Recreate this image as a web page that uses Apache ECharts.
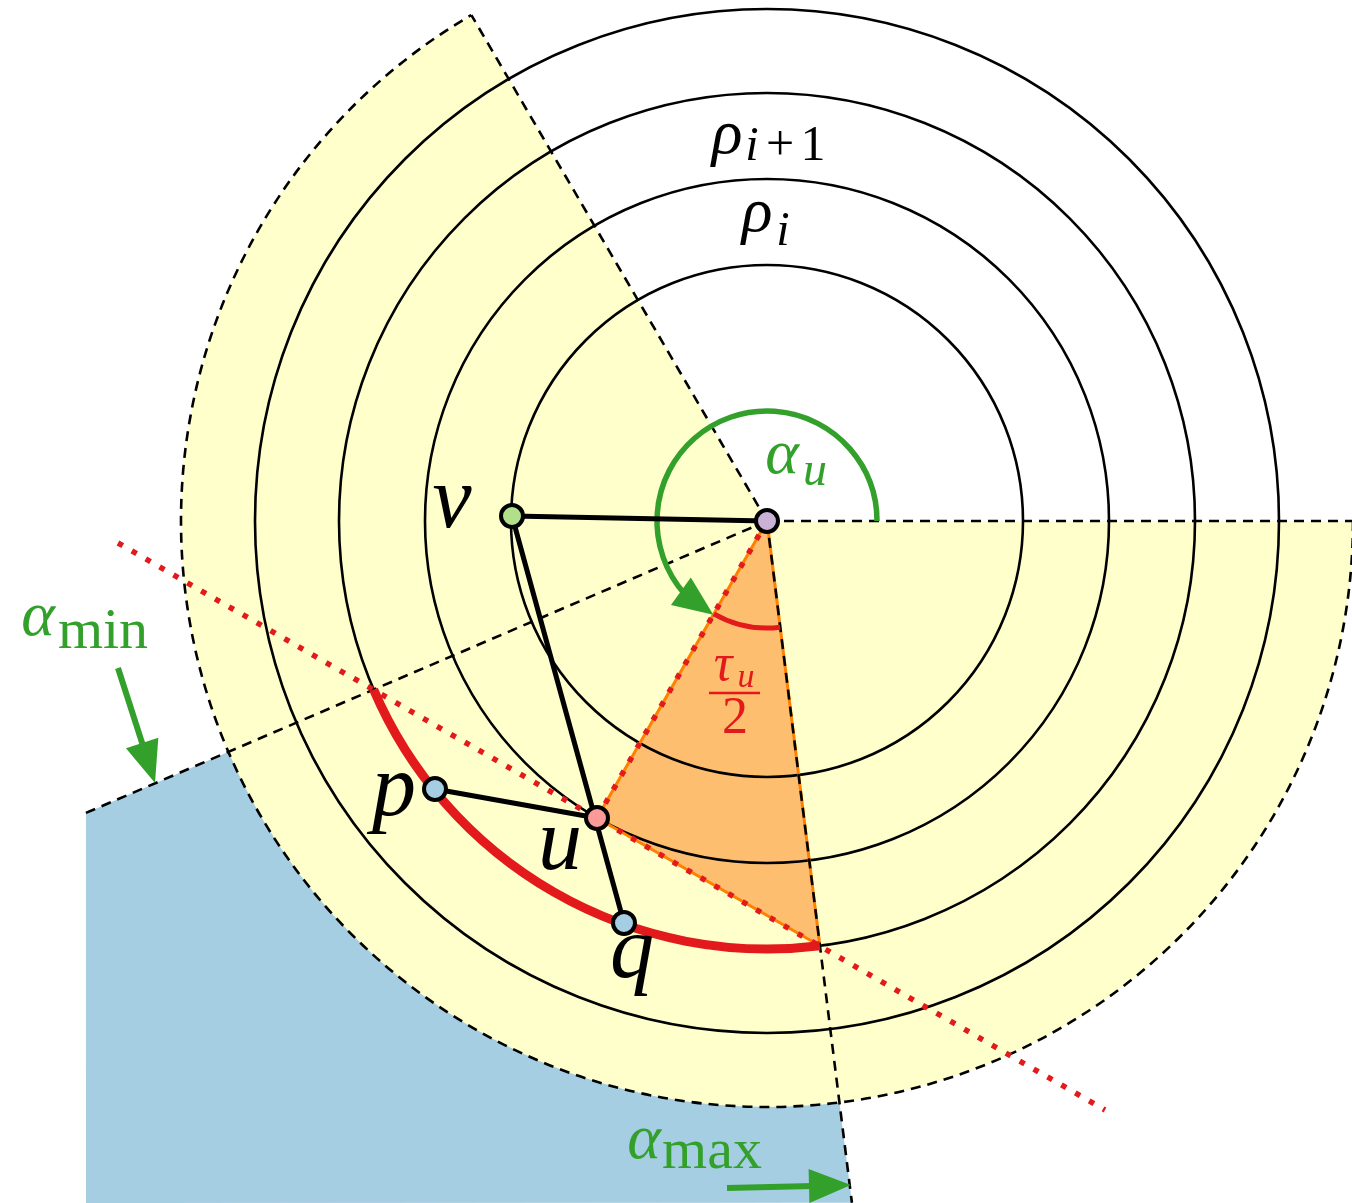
<!DOCTYPE html>
<html>
<head>
<meta charset="utf-8">
<script src="https://cdn.jsdelivr.net/npm/echarts@6/dist/echarts.min.js"></script>
<style>
  html, body { margin: 0; background: #fff; }
  #chart { width: 1352px; height: 1203px; }
</style>
</head>
<body>
<div id="chart"></div>
<script>
// data units are pixels, origin at the centre node, y pointing up
const ringRadii = [256, 342, 428, 512];
const outerRadius = 586;
const freeWedge = [120.3, 360];       // yellow wedge, ccw from / to (degrees)
const alphaMin = 203.2;
const alphaMax = 277.1;
const alphaU = 240.2;
const tauArcRadius = 107;
const alphaArcRadius = 110;
const minRayLength = 741;
const maxRayLength = 687;
const blueCorner = [-681, -682];

const nodeNames = ['c', 'v', 'u', 'p', 'q'];
const nodeX = [0, -255, -170, -332, -143];
const nodeY = [0, 5, -297, -268, -402];
const nodeColors = ['#cab2d6', '#b2df8a', '#fb9a99', '#a6cee3', '#a6cee3'];
const edges = [['c', 'v'], ['v', 'q'], ['p', 'u']];

const tangentLine = [-649, -22, 338, -589];
const minArrow = [-649, -147, -612, -262];
const maxArrow = [-40, -667, 84, -664];

// text pieces: text, centre x, baseline y, style key
const labelTexts = ['v', 'u', 'p', 'q', 'ρ', 'i', '+', '1', 'ρ', 'i',
  'α', 'u', 'α', 'min', 'α', 'max', 'τ', 'u', '2'];
const labelX = [-315, -207, -373, -135, -40, -15, 13, 46, -10, 16,
  15, 48, -729, -664, -123, -55, -44, -21, -32];
const labelY = [-9, -351, -297, -459, 366, 359, 359, 359, 288, 274,
  46, 34, -116, -129, -639, -649, -161, -167, -214];
const labelKind = ['node', 'node', 'node', 'node', 'rho', 'rhoSub', 'sub', 'sub', 'rho', 'rhoSub',
  'alphaG', 'subGi', 'alphaG', 'subG', 'alphaG', 'subG', 'tau', 'tauSub', 'tauNum'];
const fracBar = [-58, -172, -7, -172];

const BLACK = '#000', GREEN = '#33a02c', RED = '#e31a1c', ORANGE = '#ff7f00';
const kinds = {
  node: ['italic', 88, BLACK], rho: ['italic', 64, BLACK], rhoSub: ['italic', 48, BLACK],
  sub: ['normal', 50, BLACK], alphaG: ['italic', 64, GREEN], subGi: ['italic', 48, GREEN],
  subG: ['normal', 58, GREEN], tau: ['italic', 52, RED], tauSub: ['italic', 34, RED],
  tauNum: ['normal', 52, RED]
};

const D = Math.PI / 180;
const polar = (r, deg) => [r * Math.cos(deg * D), r * Math.sin(deg * D)];
const node = name => { const i = nodeNames.indexOf(name); return [nodeX[i], nodeY[i]]; };

const uPt = node('u');
const corner = polar(ringRadii[2], alphaMax);

const rays = [
  [0, 0].concat(polar(outerRadius, freeWedge[0])),
  [0, 0].concat(polar(outerRadius, 0)),
  [0, 0].concat(polar(minRayLength, alphaMin)),
  [0, 0].concat(polar(maxRayLength, alphaMax))
];
const triangleEdges = [
  [0, 0].concat(uPt), uPt.concat(corner), [0, 0].concat(corner)
];
const dottedLines = [tangentLine, [0, 0].concat(uPt)];
const edgeSegs = edges.map(e => node(e[0]).concat(node(e[1])));

function segmentSeries(segs, style, z) {
  return {
    type: 'custom', coordinateSystem: 'cartesian2d', z: z, silent: true,
    data: segs,
    renderItem(params, api) {
      const a = api.coord([api.value(0), api.value(1)]);
      const b = api.coord([api.value(2), api.value(3)]);
      return {
        type: 'line',
        shape: { x1: a[0], y1: a[1], x2: b[0], y2: b[1] },
        style: Object.assign({ fill: null }, style)
      };
    }
  };
}

function arcSeries(items, style, z) {
  return {
    type: 'custom', coordinateSystem: 'cartesian2d', z: z, silent: true,
    data: items.map(it => [0, 0].concat(it)),
    renderItem(params, api) {
      const c = api.coord([0, 0]);
      const r = api.size([api.value(2), 0])[0];
      return {
        type: 'arc',
        shape: { cx: c[0], cy: c[1], r: r, startAngle: -api.value(4) * D, endAngle: -api.value(3) * D, clockwise: true },
        style: Object.assign({ fill: null }, style)
      };
    }
  };
}

function polygonSeries(pts, color, z) {
  return {
    type: 'custom', coordinateSystem: 'cartesian2d', z: z, silent: true,
    data: pts,
    renderItem(params, api) {
      if (params.dataIndex > 0) return null;
      return { type: 'polygon', shape: { points: pts.map(p => api.coord(p)) }, style: { fill: color } };
    }
  };
}

function headPoints(tip, dir, len, half) {
  const n = Math.hypot(dir[0], dir[1]);
  const ux = dir[0] / n, uy = dir[1] / n;
  const bx = tip[0] - ux * len, by = tip[1] - uy * len;
  return [tip, [bx - uy * half, by + ux * half], [bx + uy * half, by - ux * half]];
}

const option = {
  animation: false,
  backgroundColor: '#fff',
  grid: { left: 0, right: 0, top: 0, bottom: 0 },
  xAxis: { type: 'value', min: -767, max: 585, show: false },
  yAxis: { type: 'value', min: -682, max: 521, show: false },
  series: [
    polygonSeries([polar(minRayLength, alphaMin), [0, 0], polar(maxRayLength, alphaMax), blueCorner], '#a6cee3', 1),
    {
      type: 'custom', coordinateSystem: 'cartesian2d', z: 2, silent: true,
      data: [[0, 0, outerRadius]],
      renderItem(params, api) {
        const c = api.coord([0, 0]);
        const r = api.size([api.value(2), 0])[0];
        return {
          type: 'sector',
          shape: { cx: c[0], cy: c[1], r0: 0, r: r, startAngle: -freeWedge[1] * D, endAngle: -freeWedge[0] * D, clockwise: true },
          style: { fill: '#ffffcc' }
        };
      }
    },
    polygonSeries([[0, 0], uPt, corner], '#fdbf6f', 3),
    arcSeries(ringRadii.map(r => [r, 0, 360]), { stroke: BLACK, lineWidth: 2.6 }, 4),
    arcSeries([[outerRadius, freeWedge[0], freeWedge[1]]], { stroke: BLACK, lineWidth: 2.6, lineDash: [10, 7] }, 5),
    segmentSeries(triangleEdges, { stroke: ORANGE, lineWidth: 3 }, 5),
    segmentSeries(rays, { stroke: BLACK, lineWidth: 2.6, lineDash: [10, 7] }, 6),
    segmentSeries(dottedLines, { stroke: RED, lineWidth: 5.5, lineDash: [5.5, 10.5] }, 7),
    arcSeries([[ringRadii[2], alphaMin, alphaMax]], { stroke: RED, lineWidth: 9 }, 8),
    arcSeries([[tauArcRadius, alphaU, alphaMax]], { stroke: RED, lineWidth: 5 }, 8),
    arcSeries([[alphaArcRadius, 0, 221]], { stroke: GREEN, lineWidth: 5.5 }, 8),
    {
      type: 'custom', coordinateSystem: 'cartesian2d', z: 9, silent: true,
      data: [[alphaArcRadius - 2, alphaU]],
      renderItem(params, api) {
        const r = api.value(0), a = api.value(1);
        const tip = api.coord(polar(r, a));
        const back = api.coord(polar(r, a - 12));
        const dir = [tip[0] - back[0], tip[1] - back[1]];
        return { type: 'polygon', shape: { points: headPoints(tip, dir, 40, 17) }, style: { fill: GREEN } };
      }
    },
    {
      type: 'custom', coordinateSystem: 'cartesian2d', z: 9, silent: true,
      data: [minArrow, maxArrow],
      renderItem(params, api) {
        const a = api.coord([api.value(0), api.value(1)]);
        const b = api.coord([api.value(2), api.value(3)]);
        const dir = [b[0] - a[0], b[1] - a[1]];
        const head = headPoints(b, dir, 42, 17);
        const n = Math.hypot(dir[0], dir[1]);
        const base = [b[0] - dir[0] / n * 38, b[1] - dir[1] / n * 38];
        return {
          type: 'group',
          children: [
            { type: 'line', shape: { x1: a[0], y1: a[1], x2: base[0], y2: base[1] }, style: { stroke: GREEN, lineWidth: 6 } },
            { type: 'polygon', shape: { points: head }, style: { fill: GREEN } }
          ]
        };
      }
    },
    segmentSeries(edgeSegs, { stroke: BLACK, lineWidth: 5 }, 10),
    segmentSeries([fracBar], { stroke: RED, lineWidth: 2.5 }, 10),
    {
      type: 'scatter', z: 11, silent: true,
      symbol: 'circle', symbolSize: 22,
      data: nodeNames.map((n, i) => ({
        value: [nodeX[i], nodeY[i]],
        itemStyle: { color: nodeColors[i], borderColor: BLACK, borderWidth: 4, opacity: 1 }
      }))
    },
    {
      type: 'custom', coordinateSystem: 'cartesian2d', z: 12, silent: true,
      data: labelTexts.map((t, i) => [labelX[i], labelY[i]]),
      renderItem(params, api) {
        const i = params.dataIndex;
        const k = kinds[labelKind[i]];
        const p = api.coord([api.value(0), api.value(1)]);
        return {
          type: 'text',
          x: p[0], y: p[1] - k[1] * 0.3,
          style: {
            text: labelTexts[i],
            font: k[0] + ' ' + k[1] + 'px "Liberation Serif", serif',
            fill: k[2],
            align: 'center',
            verticalAlign: 'middle'
          }
        };
      }
    }
  ]
};

const chart = echarts.init(document.getElementById('chart'));
chart.setOption(option);
</script>
</body>
</html>
